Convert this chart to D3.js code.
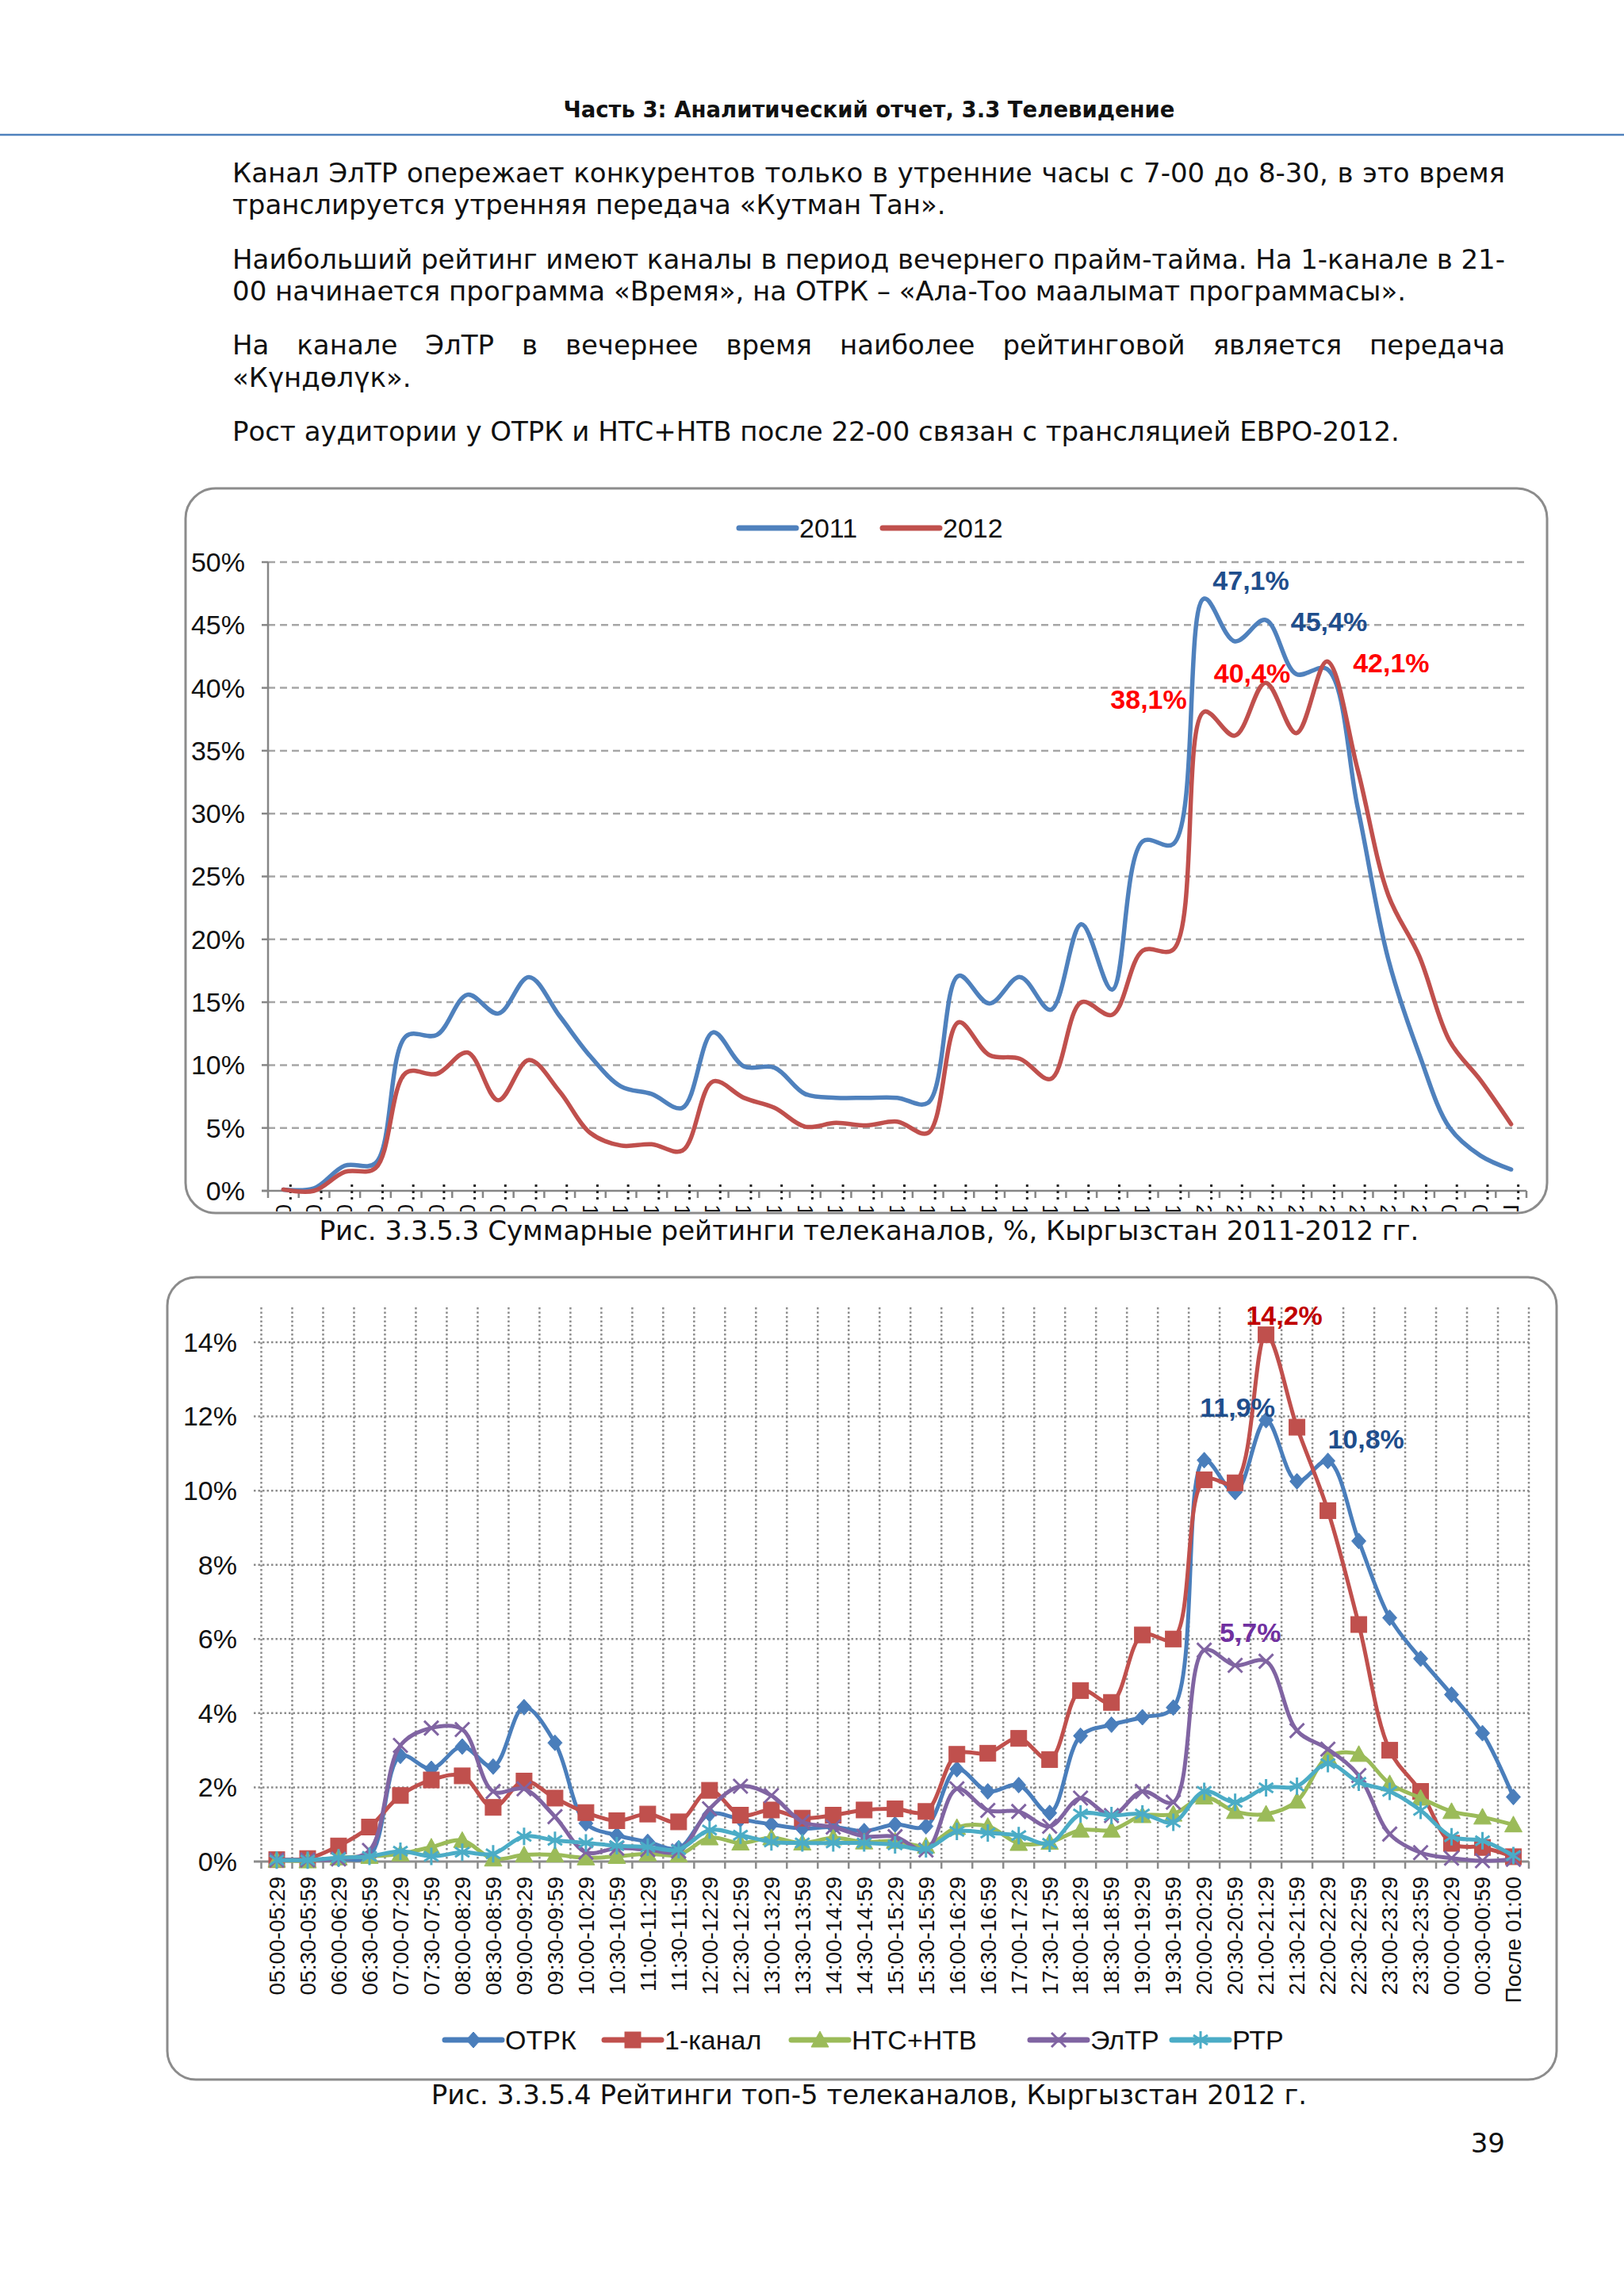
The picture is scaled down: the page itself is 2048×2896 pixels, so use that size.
<!DOCTYPE html>
<html>
<head>
<meta charset="utf-8">
<script src="https://cdn.jsdelivr.net/npm/d3@7"></script>
<style>
  body { margin: 0; background: #fff; }
  svg { display: block; }
</style>
</head>
<body>
<script>
// ---- data ----
const slots = [
  "05:00-05:29", "05:30-05:59", "06:00-06:29", "06:30-06:59", "07:00-07:29", "07:30-07:59",
  "08:00-08:29", "08:30-08:59", "09:00-09:29", "09:30-09:59", "10:00-10:29", "10:30-10:59",
  "11:00-11:29", "11:30-11:59", "12:00-12:29", "12:30-12:59", "13:00-13:29", "13:30-13:59",
  "14:00-14:29", "14:30-14:59", "15:00-15:29", "15:30-15:59", "16:00-16:29", "16:30-16:59",
  "17:00-17:29", "17:30-17:59", "18:00-18:29", "18:30-18:59", "19:00-19:29", "19:30-19:59",
  "20:00-20:29", "20:30-20:59", "21:00-21:29", "21:30-21:59", "22:00-22:29", "22:30-22:59",
  "23:00-23:29", "23:30-23:59", "00:00-00:29", "00:30-00:59", "После 01:00"
];

// chart 1: total ratings, %
const total2011 = [0.1, 0.2, 2.0, 2.2, 12.3, 12.4, 15.6, 14.1, 17.0, 13.9, 10.7, 8.3, 7.7, 6.6,
  12.6, 9.9, 9.8, 7.7, 7.4, 7.4, 7.4, 7.0, 17.1, 14.9, 17.0, 14.4, 21.2, 16.0, 27.8, 27.6,
  47.1, 43.7, 45.4, 41.1, 41.5, 30.5, 18.4, 10.9, 5.0, 2.8, 1.7];
const total2012 = [0.1, 0.0, 1.5, 1.8, 9.4, 9.3, 11.0, 7.2, 10.4, 7.9, 4.6, 3.6, 3.7, 3.2,
  8.7, 7.4, 6.6, 5.1, 5.4, 5.2, 5.5, 4.6, 13.4, 10.8, 10.5, 8.9, 15.0, 14.0, 19.1, 19.2,
  38.1, 36.2, 40.4, 36.4, 42.1, 33.5, 23.5, 18.7, 11.9, 8.8, 5.3];
const years = ["2011", "2012"];

// chart 2: top-5 channels, %
const channels = ["ОТРК", "1-канал", "НТС+НТВ", "ЭлТР", "РТР"];
const otrk = [0.05, 0.05, 0.07, 0.15, 2.85, 2.5, 3.1, 2.56, 4.16, 3.2, 1.03, 0.71, 0.53, 0.36,
  1.28, 1.14, 1.0, 0.89, 0.93, 0.82, 1.0, 0.95, 2.49, 1.89, 2.06, 1.31, 3.39, 3.69, 3.89, 4.15,
  10.82, 9.96, 11.9, 10.25, 10.8, 8.64, 6.57, 5.47, 4.5, 3.46, 1.74];
const kanal1 = [0.05, 0.08, 0.42, 0.93, 1.78, 2.2, 2.31, 1.46, 2.17, 1.71, 1.32, 1.1, 1.28, 1.07,
  1.92, 1.25, 1.39, 1.17, 1.25, 1.39, 1.42, 1.35, 2.89, 2.92, 3.32, 2.75, 4.61, 4.29, 6.11, 6.0,
  10.29, 10.21, 14.2, 11.71, 9.46, 6.39, 3.0, 1.89, 0.49, 0.38, 0.13];
const ntsNtv = [0.04, 0.02, 0.1, 0.14, 0.21, 0.39, 0.57, 0.07, 0.18, 0.18, 0.1, 0.14, 0.21, 0.18,
  0.64, 0.5, 0.64, 0.5, 0.64, 0.53, 0.55, 0.42, 0.92, 0.95, 0.49, 0.52, 0.85, 0.85, 1.24, 1.28,
  1.74, 1.35, 1.28, 1.63, 2.82, 2.89, 2.1, 1.71, 1.35, 1.2, 0.99];
const eltr = [0.04, 0.04, 0.07, 0.3, 3.13, 3.6, 3.56, 1.89, 1.96, 1.21, 0.25, 0.36, 0.32, 0.28,
  1.42, 2.03, 1.78, 1.07, 0.93, 0.68, 0.67, 0.31, 1.96, 1.38, 1.35, 0.95, 1.71, 1.24, 1.89, 1.6,
  5.7, 5.29, 5.4, 3.53, 3.03, 2.32, 0.74, 0.24, 0.09, 0.02, 0.06];
const rtr = [0.04, 0.04, 0.1, 0.14, 0.28, 0.14, 0.25, 0.21, 0.68, 0.57, 0.5, 0.43, 0.39, 0.32,
  0.85, 0.71, 0.53, 0.5, 0.5, 0.5, 0.45, 0.34, 0.81, 0.77, 0.7, 0.49, 1.28, 1.24, 1.28, 1.06,
  1.89, 1.6, 1.99, 2.03, 2.64, 2.14, 1.89, 1.38, 0.67, 0.56, 0.16];

const yTicks1 = [0, 5, 10, 15, 20, 25, 30, 35, 40, 45, 50];
const yTicks2 = [0, 2, 4, 6, 8, 10, 12, 14];

const header = "Часть 3: Аналитический отчет, 3.3 Телевидение";
const paragraphLines = [
  ["Канал ЭлТР опережает конкурентов только в утренние часы с 7-00 до 8-30, в это время", true],
  ["транслируется утренняя передача «Кутман Тан».", false],
  ["Наибольший рейтинг имеют каналы в период вечернего прайм-тайма. На 1-канале в 21-", true],
  ["00 начинается программа «Время», на ОТРК – «Ала-Тоо маалымат программасы».", false],
  ["На канале ЭлТР в вечернее время наиболее рейтинговой является передача", true],
  ["«Күндөлүк».", false],
  ["Рост аудитории у ОТРК и НТС+НТВ после 22-00 связан с трансляцией ЕВРО-2012.", false]
];
const caption1 = "Рис. 3.3.5.3 Суммарные рейтинги телеканалов, %, Кыргызстан 2011-2012 гг.";
const caption2 = "Рис. 3.3.5.4 Рейтинги топ-5 телеканалов, Кыргызстан 2012 г.";
const pageNumber = "39";

// ---- page ----
const W = 2048, H = 2896;
const bodyFont = "'DejaVu Sans', Verdana, sans-serif";
const chartFont = "'Liberation Sans', Arial, sans-serif";
const bodySize = "34px";
const chartSize = "34px";
const fmt = d => d3.format(".1f")(d).replace(".", ",") + "%";

const svg = d3.select("body").append("svg")
  .attr("width", W)
  .attr("height", H)
  .style("background", "#fff");

svg.append("text")
  .attr("x", 1096).attr("y", 148)
  .attr("text-anchor", "middle")
  .style("font-family", bodyFont).style("font-weight", "bold").style("font-size", "27.5px")
  .attr("fill", "#111")
  .text(header);

svg.append("line")
  .attr("x1", 0).attr("x2", W).attr("y1", 170).attr("y2", 170)
  .attr("stroke", "#4F81BD").attr("stroke-width", 2.5);

// justified text lines
const measure = svg.append("text")
  .style("font-family", bodyFont).style("font-size", bodySize).attr("visibility", "hidden");
const wordWidth = w => { measure.text(w); return measure.node().getComputedTextLength(); };

function textLine(g, str, x0, x1, y, justify) {
  const words = str.split(" ");
  const widths = words.map(wordWidth);
  const sum = d3.sum(widths);
  const gap = justify && words.length > 1 ? (x1 - x0 - sum) / (words.length - 1) : wordWidth("a b") - wordWidth("ab");
  let x = x0;
  words.forEach((w, i) => {
    g.append("text").attr("x", x).attr("y", y).text(w);
    x += widths[i] + gap;
  });
}

const para = svg.append("g")
  .style("font-family", bodyFont).style("font-size", bodySize).attr("fill", "#111");
const lineY = [230, 270, 339, 379, 447, 488, 556];
paragraphLines.forEach((d, i) => textLine(para, d[0], 293, 1898, lineY[i], d[1]));
measure.remove();

// ---- chart 1 ----
const c1 = svg.append("g");
c1.append("rect")
  .attr("x", 234).attr("y", 616).attr("width", 1717).attr("height", 914)
  .attr("rx", 38).attr("fill", "#fff").attr("stroke", "#8C8C8C").attr("stroke-width", 3);

c1.append("clipPath").attr("id", "clip1")
  .append("rect").attr("x", 234).attr("y", 616).attr("width", 1717).attr("height", 912).attr("rx", 38);

const x1 = d3.scaleBand().domain(slots).range([338, 1925]);
const y1 = d3.scaleLinear().domain([0, 50]).range([1502, 709]);

c1.selectAll(".grid1")
  .data(yTicks1.filter(d => d > 0))
  .join("line")
  .attr("x1", 338).attr("x2", 1925)
  .attr("y1", d => y1(d)).attr("y2", d => y1(d))
  .attr("stroke", "#A6A6A6").attr("stroke-width", 2.5).attr("stroke-dasharray", "9,6");

c1.append("line")
  .attr("x1", 338).attr("x2", 338).attr("y1", y1(50)).attr("y2", y1(0))
  .attr("stroke", "#868686").attr("stroke-width", 2.5);
c1.append("line")
  .attr("x1", 330).attr("x2", 1925).attr("y1", y1(0)).attr("y2", y1(0))
  .attr("stroke", "#868686").attr("stroke-width", 2.5);
c1.selectAll(".ytick1")
  .data(yTicks1)
  .join("line")
  .attr("x1", 330).attr("x2", 338)
  .attr("y1", d => y1(d)).attr("y2", d => y1(d))
  .attr("stroke", "#868686").attr("stroke-width", 2.5);
c1.selectAll(".ylab1")
  .data(yTicks1)
  .join("text")
  .attr("x", 309).attr("y", d => y1(d)).attr("dy", "0.35em")
  .attr("text-anchor", "end")
  .style("font-family", chartFont).style("font-size", chartSize).attr("fill", "#111")
  .text(d => d + "%");

// x ticks, and the rotated labels that the frame cuts off
c1.selectAll(".xtick1")
  .data(slots.map(s => x1(s)).concat([1925]))
  .join("line")
  .attr("x1", d => d).attr("x2", d => d)
  .attr("y1", y1(0)).attr("y2", y1(0) + 9)
  .attr("stroke", "#868686").attr("stroke-width", 2.5);
c1.selectAll(".xdot1")
  .data(slots)
  .join("line")
  .attr("x1", d => x1(d) + x1.bandwidth() / 2 + 9).attr("x2", d => x1(d) + x1.bandwidth() / 2 + 9)
  .attr("y1", 1494).attr("y2", 1517)
  .attr("stroke", "#222").attr("stroke-width", 3).attr("stroke-dasharray", "3,5");
c1.append("g").attr("clip-path", "url(#clip1)")
  .selectAll("text")
  .data(slots)
  .join("text")
  .attr("transform", d => `translate(${x1(d) + x1.bandwidth() / 2},1519) rotate(90)`)
  .attr("dy", "0.35em")
  .style("font-family", chartFont).style("font-size", "28px").attr("fill", "#111")
  .text(d => d);

const line1 = d3.line()
  .x((d, i) => x1(slots[i]) + x1.bandwidth() / 2)
  .y(d => y1(d))
  .curve(d3.curveCatmullRom.alpha(0.5));
const colors1 = ["#4F81BD", "#C0504D"];
[total2011, total2012].forEach((s, k) => {
  c1.append("path")
    .attr("d", line1(s))
    .attr("fill", "none").attr("stroke", colors1[k]).attr("stroke-width", 5.5)
    .attr("stroke-linejoin", "round").attr("stroke-linecap", "round");
});

// legend
const leg1 = [[932, 1008], [1113, 1189]];
years.forEach((yname, k) => {
  c1.append("line")
    .attr("x1", leg1[k][0]).attr("x2", leg1[k][0] + 72).attr("y1", 666).attr("y2", 666)
    .attr("stroke", colors1[k]).attr("stroke-width", 7).attr("stroke-linecap", "round");
  c1.append("text")
    .attr("x", leg1[k][1]).attr("y", 666).attr("dy", "0.35em")
    .style("font-family", chartFont).style("font-size", chartSize).attr("fill", "#111")
    .text(yname);
});

// data labels
const labels1 = [
  [total2011, 30, 59, -23, "#1F4E8C"],
  [total2011, 32, 80, 2, "#1F4E8C"],
  [total2012, 30, -70, -16, "#FF0000"],
  [total2012, 32, -17, -12, "#FF0000"],
  [total2012, 34, 81, 2, "#FF0000"]
];
labels1.forEach(([s, i, dx, dy, col]) => {
  c1.append("text")
    .attr("x", x1(slots[i]) + x1.bandwidth() / 2 + dx)
    .attr("y", y1(s[i]) + dy).attr("dy", "0.35em")
    .attr("text-anchor", "middle")
    .style("font-family", chartFont).style("font-size", chartSize).style("font-weight", "bold")
    .attr("fill", col)
    .text(fmt(s[i]));
});

svg.append("text")
  .attr("x", 1096).attr("y", 1564).attr("text-anchor", "middle")
  .style("font-family", bodyFont).style("font-size", bodySize).attr("fill", "#111")
  .text(caption1);

// ---- chart 2 ----
const c2 = svg.append("g");
c2.append("rect")
  .attr("x", 211).attr("y", 1611).attr("width", 1752).attr("height", 1012)
  .attr("rx", 36).attr("fill", "#fff").attr("stroke", "#8C8C8C").attr("stroke-width", 3);

const x2 = d3.scaleBand().domain(slots).range([329.5, 1928]);
const y2 = d3.scaleLinear().domain([0, 14]).range([2348, 1693]);
const cx2 = i => x2(slots[i]) + x2.bandwidth() / 2;

c2.selectAll(".vgrid2")
  .data(slots.map(s => x2(s)).concat([1928]))
  .join("line")
  .attr("x1", d => d).attr("x2", d => d)
  .attr("y1", 1649).attr("y2", y2(0))
  .attr("stroke", "#8C8C8C").attr("stroke-width", 2.5).attr("stroke-dasharray", "2.5,3");
c2.selectAll(".hgrid2")
  .data(yTicks2.filter(d => d > 0))
  .join("line")
  .attr("x1", 320).attr("x2", 1928)
  .attr("y1", d => y2(d)).attr("y2", d => y2(d))
  .attr("stroke", "#8C8C8C").attr("stroke-width", 2.5).attr("stroke-dasharray", "2.5,3");
c2.append("line")
  .attr("x1", 320).attr("x2", 1928).attr("y1", y2(0)).attr("y2", y2(0))
  .attr("stroke", "#8C8C8C").attr("stroke-width", 3);
c2.selectAll(".xtick2")
  .data(slots.map(s => x2(s)).concat([1928]))
  .join("line")
  .attr("x1", d => d).attr("x2", d => d)
  .attr("y1", y2(0)).attr("y2", y2(0) + 9)
  .attr("stroke", "#8C8C8C").attr("stroke-width", 2.5);
c2.selectAll(".ylab2")
  .data(yTicks2)
  .join("text")
  .attr("x", 299).attr("y", d => y2(d)).attr("dy", "0.35em")
  .attr("text-anchor", "end")
  .style("font-family", chartFont).style("font-size", chartSize).attr("fill", "#111")
  .text(d => d + "%");
c2.selectAll(".xlab2")
  .data(slots)
  .join("text")
  .attr("transform", (d, i) => `translate(${cx2(i)},2367) rotate(-90)`)
  .attr("dy", "0.35em")
  .attr("text-anchor", "end")
  .style("font-family", chartFont).style("font-size", "28px").attr("fill", "#111")
  .text(d => d);

// markers
const marker = {
  diamond: g => g.append("path").attr("d", "M0,-10L9,0L0,10L-9,0Z"),
  square: g => g.append("rect").attr("x", -10).attr("y", -10).attr("width", 20).attr("height", 20),
  triangle: g => g.append("path").attr("d", "M0,-11L11,9L-11,9Z"),
  times: g => g.append("path").attr("d", "M-9,-9L9,9M9,-9L-9,9").attr("fill", "none").attr("stroke-width", 3),
  asterisk: g => g.append("path").attr("d", "M0,-11L0,11M-9,-6L9,6M9,-6L-9,6").attr("fill", "none").attr("stroke-width", 3)
};
const series2 = [
  { name: channels[0], values: otrk, color: "#4A7EBB", mark: "diamond" },
  { name: channels[1], values: kanal1, color: "#C0504D", mark: "square" },
  { name: channels[2], values: ntsNtv, color: "#9BBB59", mark: "triangle" },
  { name: channels[3], values: eltr, color: "#8064A2", mark: "times" },
  { name: channels[4], values: rtr, color: "#4BACC6", mark: "asterisk" }
];
const line2 = d3.line()
  .x((d, i) => cx2(i))
  .y(d => y2(d))
  .curve(d3.curveCatmullRom.alpha(0.5));

series2.forEach(s => {
  const g = c2.append("g");
  g.append("path")
    .attr("d", line2(s.values))
    .attr("fill", "none").attr("stroke", s.color).attr("stroke-width", 5)
    .attr("stroke-linejoin", "round").attr("stroke-linecap", "round");
  s.values.forEach((v, i) => {
    const m = g.append("g").attr("transform", `translate(${cx2(i)},${y2(v)})`)
      .attr("fill", s.color).attr("stroke", s.color);
    marker[s.mark](m);
  });
});

// legend
const legendX = [561, 762, 998, 1299, 1478];
series2.forEach((s, k) => {
  const lx = legendX[k];
  const g = c2.append("g");
  g.append("line")
    .attr("x1", lx).attr("x2", lx + 72).attr("y1", 2573).attr("y2", 2573)
    .attr("stroke", s.color).attr("stroke-width", 7).attr("stroke-linecap", "round");
  const m = g.append("g").attr("transform", `translate(${lx + 36},2573)`)
    .attr("fill", s.color).attr("stroke", s.color);
  marker[s.mark](m);
  g.append("text")
    .attr("x", lx + 76).attr("y", 2573).attr("dy", "0.35em")
    .style("font-family", chartFont).style("font-size", chartSize).attr("fill", "#111")
    .text(s.name);
});

// data labels
const labels2 = [
  [kanal1, 32, 23, -25, "#C00000"],
  [otrk, 32, -36, -16, "#1F4E8C"],
  [otrk, 34, 48, -28, "#1F4E8C"],
  [eltr, 30, 58, -22, "#7030A0"]
];
labels2.forEach(([s, i, dx, dy, col]) => {
  c2.append("text")
    .attr("x", cx2(i) + dx)
    .attr("y", y2(s[i]) + dy).attr("dy", "0.35em")
    .attr("text-anchor", "middle")
    .style("font-family", chartFont).style("font-size", chartSize).style("font-weight", "bold")
    .attr("fill", col)
    .text(fmt(s[i]));
});

svg.append("text")
  .attr("x", 1096).attr("y", 2654).attr("text-anchor", "middle")
  .style("font-family", bodyFont).style("font-size", bodySize).attr("fill", "#111")
  .text(caption2);

svg.append("text")
  .attr("x", 1898).attr("y", 2715).attr("text-anchor", "end")
  .style("font-family", bodyFont).style("font-size", bodySize).attr("fill", "#111")
  .text(pageNumber);
</script>
</body>
</html>
